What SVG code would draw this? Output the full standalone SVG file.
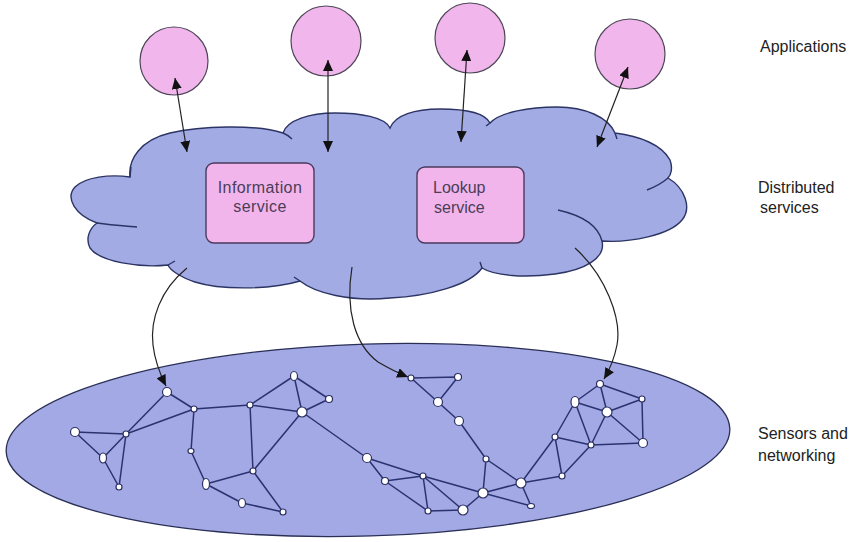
<svg xmlns="http://www.w3.org/2000/svg" width="858" height="542" viewBox="0 0 858 542">
<defs>
<style>
.app{fill:#f1b6ec;stroke:#4e4658;stroke-width:1.2}
.cloud{fill:#a3abe5;stroke:#2c3464;stroke-width:1.4}
.tick{fill:none;stroke:#2c3464;stroke-width:1.4}
.box{fill:#f2b5eb;stroke:#4a3a5e;stroke-width:1.4}
.btxt{font-family:"Liberation Sans",Arial,sans-serif;font-size:16px;fill:#4a3d58}
.lbl{font-family:"Liberation Sans",Arial,sans-serif;font-size:16px;fill:#222}
.dbl{fill:none;stroke:#222;stroke-width:1.2;marker-start:url(#ah);marker-end:url(#ah)}
.crv{fill:none;stroke:#222;stroke-width:1.2;marker-end:url(#ah)}
.sea{fill:#a3a9e4;stroke:#2a2f55;stroke-width:1.3}
.e{stroke:#2b3270;stroke-width:1.5;fill:none}
.n{fill:#ffffff;stroke:#2b3060;stroke-width:1.2}
</style>
<marker id="ah" viewBox="0 0 11 10" refX="11" refY="5" markerWidth="11" markerHeight="10" markerUnits="userSpaceOnUse" orient="auto-start-reverse">
<path d="M0,0 L11,5 L0,10 z" fill="#111"/>
</marker>
</defs>
<rect width="858" height="542" fill="#ffffff"/>

<g id="sensor-field">
<ellipse class="sea" cx="368" cy="440" rx="362" ry="96" transform="rotate(-1.8 368 440)"/>
</g>

<g id="distributed-cloud">
<path class="cloud" d="M130,177 C128,160 140,140 170,133 C200,126 255,124 283,133 C287,120 310,113 335,113 C360,113 385,117 390,128 C395,115 415,109 440,109 C465,109 485,113 490,123 C500,112 530,107 557,107 C585,107 608,117 615,133 C640,136 662,145 670,160 C673,168 671,175 668,178 C685,188 692,208 682,220 C670,235 630,243 602,241 C606,258 585,270 555,274 C525,278 495,276 482,268 C470,285 430,296 390,298 C350,302 315,293 300,281 C270,290 220,290 195,282 C180,277 170,270 168,265 C140,268 100,262 90,248 C85,238 90,228 97,223 C75,215 65,198 75,187 C85,177 110,174 130,177 Z"/>
<path class="tick" d="M283,133 Q288,135 292,139 M490,123 L486,126 M615,133 L617,139 M668,178 Q660,185 647,190 M558,210 C580,215 598,225 602,241 M482,268 L480,262 M300,281 L294,277 M168,265 L175,261 M97,223 C110,225 125,226 137,227 M130,177 L131,167"/>
</g>

<g id="information-service">
<rect class="box" x="206" y="163" width="108" height="80" rx="8"/>
<text class="btxt" x="260" y="193" text-anchor="middle" letter-spacing="0.4">Information</text>
<text class="btxt" x="260" y="212" text-anchor="middle" letter-spacing="0.4">service</text>
</g>

<g id="lookup-service">
<rect class="box" x="417" y="167" width="107" height="76" rx="8"/>
<text class="btxt" x="433" y="193">Lookup</text>
<text class="btxt" x="434" y="213">service</text>
</g>

<g id="app1"><circle class="app" cx="174" cy="61" r="34"/></g>
<g id="app2"><circle class="app" cx="326" cy="41" r="35"/></g>
<g id="app3"><circle class="app" cx="470" cy="38" r="35"/></g>
<g id="app4"><circle class="app" cx="630" cy="54" r="35"/></g>

<g id="labels">
<text class="lbl" x="760" y="52">Applications</text>
<text class="lbl" x="758" y="193">Distributed</text>
<text class="lbl" x="760" y="213">services</text>
<text class="lbl" x="758" y="439">Sensors and</text>
<text class="lbl" x="758" y="461">networking</text>
</g>

<g id="connectors">
<path class="dbl" d="M175,78 L187,152"/>
<path class="dbl" d="M328,60 L328,152"/>
<path class="dbl" d="M467,50 L461,142"/>
<path class="dbl" d="M628,67 L597,147"/>
<path class="crv" d="M187,268 C160,290 150,320 153,345 C155,362 160,374 166,386"/>
<path class="crv" d="M352,267 C345,310 355,345 378,362 C390,369 398,373 408,377"/>
<path class="crv" d="M575,248 C605,275 622,318 617,345 C614,360 610,369 604,379"/>
</g>

<g id="network-edges">
<path class="e" d="M167,392 L194,409 M167,392 L126,434 M194,409 L126,434 M126,434 L75,432 M75,432 L103,458 M126,434 L103,458 M126,434 L119,487 M103,458 L119,487 M194,409 L250,405 M194,409 L191,451 M191,451 L206,484 M250,405 L294,376 M250,405 L302,412 M250,405 L253,471 M294,376 L302,412 M294,376 L329,399 M329,399 L302,412 M302,412 L253,471 M253,471 L206,484 M253,471 L283,512 M206,484 L242,503 M242,503 L283,512 M302,412 L367,458 M367,458 L385,481 M367,458 L423,476 M423,476 L483,493 M385,481 L423,476 M385,481 L428,511 M423,476 L428,511 M423,476 L463,510 M428,511 L463,510 M463,510 L483,493 M483,493 L486,459 M486,459 L459,421 M459,421 L438,402 M438,402 L411,378 M438,402 L458,377 M411,378 L458,377 M486,459 L521,483 M483,493 L521,483 M483,493 L531,506 M521,483 L531,506 M521,483 L562,476 M521,483 L555,437 M600,384 L575,402 M600,384 L607,412 M600,384 L642,399 M575,402 L607,412 M607,412 L642,399 M642,399 L643,443 M607,412 L643,443 M575,402 L555,437 M575,402 L591,445 M607,412 L591,445 M555,437 L591,445 M591,445 L643,443 M555,437 L562,476 M591,445 L562,476"/>
</g>

<g id="network-nodes">
<circle class="n" cx="167" cy="392" r="4.5"/>
<circle class="n" cx="194" cy="409" r="3"/>
<circle class="n" cx="126" cy="434" r="3"/>
<circle class="n" cx="75" cy="432" r="4.5"/>
<ellipse class="n" cx="103" cy="458" rx="3.5" ry="5"/>
<circle class="n" cx="119" cy="487" r="3"/>
<ellipse class="n" cx="191" cy="451" rx="3" ry="2.5"/>
<ellipse class="n" cx="206" cy="484" rx="3.5" ry="5.5"/>
<circle class="n" cx="250" cy="405" r="3"/>
<ellipse class="n" cx="294" cy="376" rx="3.5" ry="4.5"/>
<circle class="n" cx="329" cy="399" r="3.5"/>
<circle class="n" cx="302" cy="412" r="5"/>
<circle class="n" cx="253" cy="471" r="3"/>
<ellipse class="n" cx="242" cy="503" rx="3.5" ry="4.5"/>
<circle class="n" cx="283" cy="512" r="3"/>
<circle class="n" cx="367" cy="458" r="4.5"/>
<circle class="n" cx="385" cy="481" r="3.5"/>
<circle class="n" cx="423" cy="476" r="3"/>
<circle class="n" cx="411" cy="378" r="3"/>
<circle class="n" cx="458" cy="377" r="3.5"/>
<circle class="n" cx="438" cy="402" r="4.5"/>
<circle class="n" cx="459" cy="421" r="4.5"/>
<circle class="n" cx="486" cy="459" r="3"/>
<circle class="n" cx="521" cy="483" r="5"/>
<circle class="n" cx="483" cy="493" r="5"/>
<ellipse class="n" cx="531" cy="506" rx="3.5" ry="2.5"/>
<circle class="n" cx="463" cy="510" r="5"/>
<circle class="n" cx="428" cy="511" r="3"/>
<circle class="n" cx="600" cy="384" r="3.5"/>
<ellipse class="n" cx="575" cy="402" rx="4" ry="5.5"/>
<circle class="n" cx="607" cy="412" r="5"/>
<circle class="n" cx="642" cy="399" r="3"/>
<circle class="n" cx="555" cy="437" r="3"/>
<circle class="n" cx="591" cy="445" r="3"/>
<circle class="n" cx="643" cy="443" r="4.5"/>
<circle class="n" cx="562" cy="476" r="3"/>
</g>
</svg>
